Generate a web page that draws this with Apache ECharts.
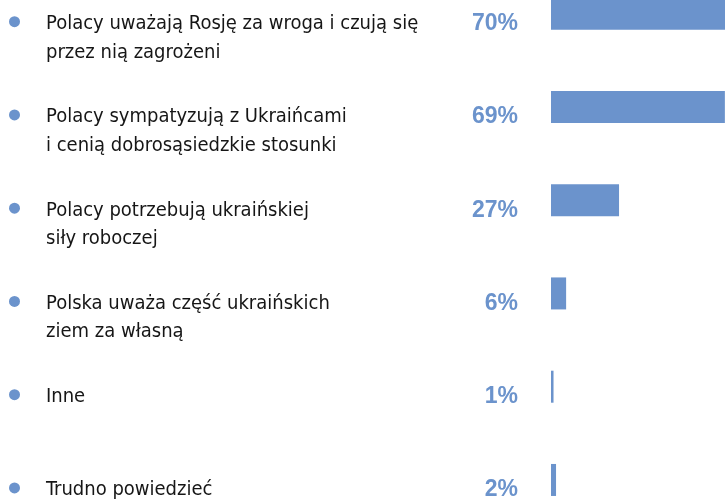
<!DOCTYPE html>
<html>
<head>
<meta charset="utf-8">
<script src="https://cdn.jsdelivr.net/npm/echarts@6/dist/echarts.min.js"></script>
<style>
  html, body { margin: 0; padding: 0; background: #fff; }
  #chart { width: 725px; height: 500px; }
</style>
</head>
<body>
<div id="chart"></div>
<script>
// Survey answers (top to bottom) and their shares in percent
const categories = [
  'Polacy uważają Rosję za wroga i czują się\nprzez nią zagrożeni',
  'Polacy sympatyzują z Ukraińcami\ni cenią dobrosąsiedzkie stosunki',
  'Polacy potrzebują ukraińskiej\nsiły roboczej',
  'Polska uważa część ukraińskich\nziem za własną',
  'Inne',
  'Trudno powiedzieć'
];
const shares = [70, 69, 27, 6, 1, 2];

const BLUE = '#6b93cc';
const TEXT_FONT = "'Liberation Sans Narrow', 'DejaVu Sans Condensed', sans-serif";

const chart = echarts.init(document.getElementById('chart'), null, { renderer: 'canvas' });

chart.setOption({
  animation: false,
  backgroundColor: '#ffffff',
  grid: {
    left: 551,
    top: -33,
    width: 252,
    height: 559.6,
    containLabel: false,
    outerBoundsMode: 'none'
  },
  xAxis: {
    type: 'value',
    min: 0,
    max: 100,
    show: false
  },
  yAxis: [
    {
      // answer texts
      type: 'category',
      inverse: true,
      data: categories,
      position: 'left',
      offset: 0,
      axisLine: { show: false },
      axisTick: { show: false },
      splitLine: { show: false },
      axisLabel: {
        interval: 0,
        margin: 505,
        align: 'left',
        verticalAlign: 'top',
        padding: [-4, 0, 0, 0],
        lineHeight: 28.5,
        fontFamily: TEXT_FONT,
        fontSize: 20,
        color: '#161616'
      }
    },
    {
      // bullet dots
      type: 'category',
      inverse: true,
      data: categories,
      position: 'left',
      offset: 0,
      axisLine: { show: false },
      axisTick: { show: false },
      splitLine: { show: false },
      axisLabel: {
        interval: 0,
        margin: 531,
        align: 'right',
        verticalAlign: 'top',
        padding: [2.5, 0, 0, 0],
        formatter: () => '{dot| }',
        rich: {
          dot: {
            width: 11,
            height: 11,
            lineHeight: 11,
            borderRadius: 5.5,
            backgroundColor: BLUE
          }
        }
      }
    }
  ],
  series: [
    {
      type: 'bar',
      yAxisIndex: 0,
      data: shares,
      barWidth: 32,
      itemStyle: { color: BLUE },
      label: {
        show: true,
        position: 'left',
        distance: 33,
        offset: [0, 10],
        formatter: '{c}%',
        fontFamily: "'Liberation Sans', Arial, sans-serif",
        fontWeight: 'bold',
        fontSize: 23,
        color: BLUE
      }
    }
  ]
});
</script>
</body>
</html>
